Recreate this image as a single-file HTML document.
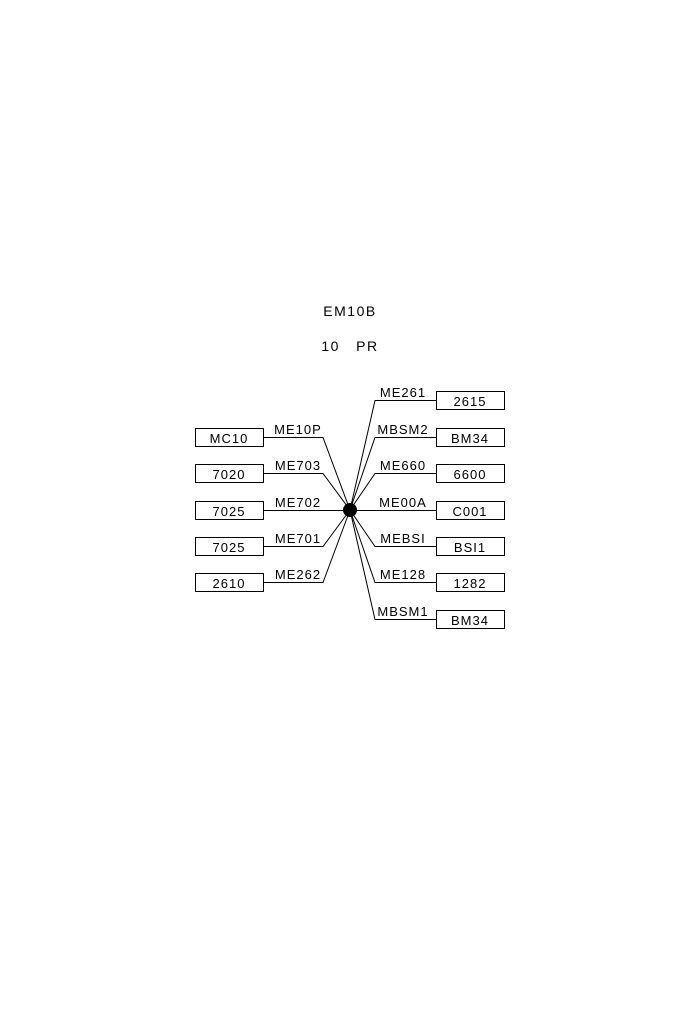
<!DOCTYPE html>
<html><head><style>body{margin:0;background:#fff}</style></head><body>
<svg width="700" height="1020" xmlns="http://www.w3.org/2000/svg" font-family="Liberation Sans, sans-serif" font-size="13" fill="#000">
<rect width="700" height="1020" fill="#fff"/>
<text x="350" y="316" text-anchor="middle" font-size="14" letter-spacing="1.5">EM10B</text>
<text x="350" y="351" text-anchor="middle" font-size="14" letter-spacing="1.5">10&#160;&#160;&#160;PR</text>
<g stroke="#000" stroke-width="1" fill="none">
<rect x="195.5" y="428.5" width="68" height="18"/>
<rect x="195.5" y="464.5" width="68" height="18"/>
<rect x="195.5" y="501.5" width="68" height="18"/>
<rect x="195.5" y="537.5" width="68" height="18"/>
<rect x="195.5" y="573.5" width="68" height="18"/>
<polyline points="263,437.5 323,437.5 350,510"/>
<polyline points="263,473.5 323,473.5 350,510"/>
<polyline points="263,510.5 350,510.5"/>
<polyline points="263,546.5 323,546.5 350,510"/>
<polyline points="263,582.5 323,582.5 350,510"/>
<rect x="436.5" y="391.5" width="68" height="18"/>
<rect x="436.5" y="428.5" width="68" height="18"/>
<rect x="436.5" y="464.5" width="68" height="18"/>
<rect x="436.5" y="501.5" width="68" height="18"/>
<rect x="436.5" y="537.5" width="68" height="18"/>
<rect x="436.5" y="573.5" width="68" height="18"/>
<rect x="436.5" y="610.5" width="68" height="18"/>
<polyline points="350,510 375,400.5 436,400.5"/>
<polyline points="350,510 375,437.5 436,437.5"/>
<polyline points="350,510 375,473.5 436,473.5"/>
<polyline points="350,510.5 436,510.5"/>
<polyline points="350,510 375,546.5 436,546.5"/>
<polyline points="350,510 375,582.5 436,582.5"/>
<polyline points="350,510 375,619.5 436,619.5"/>
</g>
<circle cx="350" cy="510" r="7"/>
<g text-anchor="middle" letter-spacing="1">
<text x="229" y="443">MC10</text>
<text x="229" y="479">7020</text>
<text x="229" y="516">7025</text>
<text x="229" y="552">7025</text>
<text x="229" y="588">2610</text>
<text x="298" y="434">ME10P</text>
<text x="298" y="470">ME703</text>
<text x="298" y="507">ME702</text>
<text x="298" y="543">ME701</text>
<text x="298" y="579">ME262</text>
<text x="470" y="406">2615</text>
<text x="470" y="443">BM34</text>
<text x="470" y="479">6600</text>
<text x="470" y="516">C001</text>
<text x="470" y="552">BSI1</text>
<text x="470" y="588">1282</text>
<text x="470" y="625">BM34</text>
<text x="403" y="397">ME261</text>
<text x="403" y="434">MBSM2</text>
<text x="403" y="470">ME660</text>
<text x="403" y="507">ME00A</text>
<text x="403" y="543">MEBSI</text>
<text x="403" y="579">ME128</text>
<text x="403" y="616">MBSM1</text>
</g>
</svg>
</body></html>
